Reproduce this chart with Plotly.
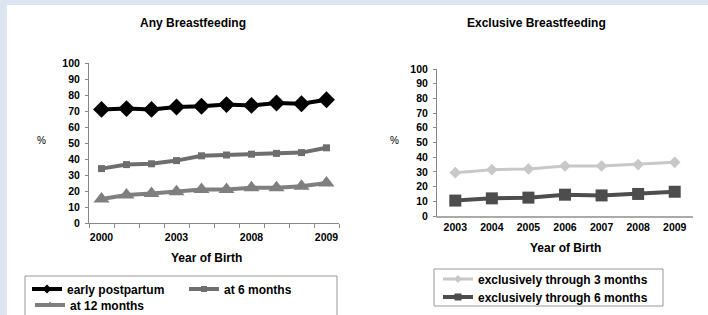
import plotly.graph_objects as go

W, H = 708, 315

# ---- data ----
any_years = ["2000", "2001", "2002", "2003", "2004", "2005", "2006", "2007", "2008", "2009"]
any_ticktext = ["2000", "", "", "2003", "", "", "2008", "", "", "2009"]
early_postpartum = [71, 71.5, 71, 72.5, 73, 74, 73.5, 75, 74.5, 77]
at_6_months = [34, 36.5, 37, 39, 42, 42.5, 43, 43.5, 44, 47]
at_12_months = [15, 17.5, 18.5, 19.5, 21, 21, 22, 22, 23, 25]

excl_years = ["2003", "2004", "2005", "2006", "2007", "2008", "2009"]
excl_3_months = [29.5, 31.5, 32, 34, 34, 35, 36.5]
excl_6_months = [10.5, 12, 12.5, 14.5, 14, 15, 16.5]

y_ticks = list(range(0, 101, 10))

FONT = "Liberation Sans, Arial, sans-serif"
BAND = "#dde5f3"


def px(x):
    return x / W


def py(y):
    return 1 - y / H


# series styles: name, x, y, axis, legend, line color, width, symbol, size, legend marker size
series = [
    ("early postpartum", any_years, early_postpartum, "1", "legend", "#000000", 4, "diamond", 13, 7),
    ("at 6 months", any_years, at_6_months, "1", "legend2", "#6e6e6e", 4, "square", 7, 6),
    ("at 12 months", any_years, at_12_months, "1", "legend3", "#7f7f7f", 4, "triangle-up", 14, 7),
    ("exclusively through 3 months", excl_years, excl_3_months, "2", "legend4", "#c8c8c8", 3, "diamond", 9, 6),
    ("exclusively through 6 months", excl_years, excl_6_months, "2", "legend5", "#4d4d4d", 4, "square", 12, 7),
]

fig = go.Figure()
for name, xs, ys, ax, leg, col, lw, sym, ms, lms in series:
    xa = "x" if ax == "1" else "x2"
    ya = "y" if ax == "1" else "y2"
    fig.add_trace(go.Scatter(x=xs, y=ys, name=name, mode="lines+markers",
                             line=dict(color=col, width=lw),
                             marker=dict(symbol=sym, size=ms, color=col),
                             xaxis=xa, yaxis=ya, showlegend=False))
    # legend entry with smaller marker (as in the reference key)
    fig.add_trace(go.Scatter(x=[None], y=[None], name=name, mode="lines+markers",
                             line=dict(color=col, width=lw),
                             marker=dict(symbol=sym, size=lms, color=col),
                             xaxis=xa, yaxis=ya, legend=leg, showlegend=True))

tickfont = dict(family=FONT, size=10.5, color="#000000", weight="bold")
legfont = dict(family=FONT, size=12, color="#000000", weight="bold")


def leg(x, y):
    return dict(x=px(x), y=py(y), xanchor="left", yanchor="middle",
                bgcolor="rgba(0,0,0,0)", borderwidth=0, font=legfont, itemwidth=30)


fig.update_layout(
    width=W, height=H,
    margin=dict(l=0, r=0, t=0, b=0, autoexpand=False),
    paper_bgcolor="#ffffff",
    plot_bgcolor="rgba(0,0,0,0)",
    showlegend=True,
    xaxis=dict(domain=[px(89), px(339)], anchor="y", type="category",
               categoryorder="array", categoryarray=any_years,
               tickmode="array", tickvals=any_years, ticktext=any_ticktext,
               tickson="boundaries", ticks="outside", ticklen=4, tickcolor="#888888",
               tickangle=0, ticklabelstandoff=4,
               showline=True, linecolor="#888888", linewidth=1,
               showgrid=False, zeroline=False, tickfont=tickfont,
               range=[-0.5, 9.5]),
    yaxis=dict(domain=[py(223), py(63)], anchor="x", range=[0, 100],
               tickmode="array", tickvals=y_ticks, ticks="outside", ticklen=3,
               ticklabelstandoff=3,
               tickcolor="#888888", showline=True, linecolor="#888888", linewidth=1,
               showgrid=False, zeroline=False, tickfont=tickfont),
    xaxis2=dict(domain=[px(437), px(693)], anchor="y2", type="category",
                categoryorder="array", categoryarray=excl_years,
                ticks="", showline=True, linecolor="#aaaaaa", linewidth=2,
                tickangle=0,
                showgrid=False, zeroline=False, tickfont=tickfont,
                range=[-0.5, 6.5]),
    yaxis2=dict(domain=[py(216), py(69)], anchor="x2", range=[0, 100],
                tickmode="array", tickvals=y_ticks, ticks="outside", ticklen=3,
                ticklabelstandoff=3,
                tickcolor="#888888", showline=True, linecolor="#888888", linewidth=1,
                showgrid=False, zeroline=False, tickfont=tickfont),
    legend=leg(27, 289),
    legend2=leg(184, 289),
    legend3=leg(30, 305),
    legend4=leg(438, 279),
    legend5=leg(438, 297),
)

# page bands (top and left) and legend boxes
fig.add_shape(type="rect", xref="paper", yref="paper", x0=0, x1=1, y0=py(5), y1=1,
              fillcolor=BAND, line=dict(width=0), layer="below")
fig.add_shape(type="rect", xref="paper", yref="paper", x0=0, x1=px(7), y0=0, y1=1,
              fillcolor=BAND, line=dict(width=0), layer="below")
fig.add_shape(type="rect", xref="paper", yref="paper", x0=px(25), x1=px(337), y0=py(318), y1=py(276),
              fillcolor="rgba(0,0,0,0)", line=dict(color="#999999", width=1), layer="below")
fig.add_shape(type="rect", xref="paper", yref="paper", x0=px(434), x1=px(663), y0=py(306), y1=py(269),
              fillcolor="rgba(0,0,0,0)", line=dict(color="#999999", width=1), layer="below")

titlefont = dict(family=FONT, size=12, color="#000000", weight="bold")
ann = [
    ("Any Breastfeeding", 193, 23, titlefont),
    ("Exclusive Breastfeeding", 536, 23, titlefont),
    ("Year of Birth", 206, 258, titlefont),
    ("Year of Birth", 565, 248, titlefont),
    ("%", 41, 140, dict(family=FONT, size=10, color="#000000")),
    ("%", 394, 140, dict(family=FONT, size=10, color="#000000")),
]
for text, x, y, f in ann:
    fig.add_annotation(text=text, x=px(x), y=py(y), xref="paper", yref="paper",
                       showarrow=False, xanchor="center", yanchor="middle", font=f)

fig.write_html("out.html", config={"displayModeBar": False},
               post_script=("document.documentElement.style.overflow='hidden';"
                            "document.body.style.margin='0';"
                            "document.body.style.overflow='hidden';"))
